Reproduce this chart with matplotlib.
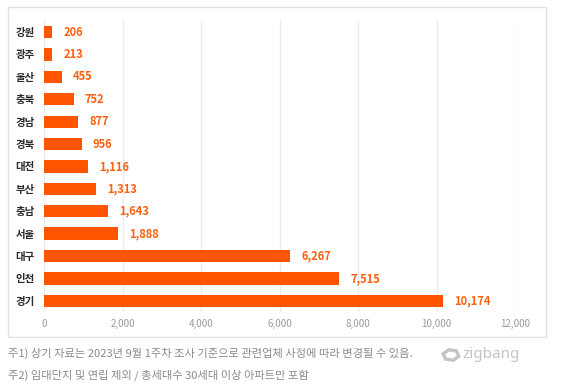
#!/usr/bin/env python3
import matplotlib
matplotlib.use('Agg')
import matplotlib.pyplot as plt
import matplotlib.patches as patches

plt.rcParams['font.family'] = ['Noto Sans CJK KR', 'DejaVu Sans']

# Data (top to bottom)
regions = ['강원', '광주', '울산', '충북', '경남', '경북', '대전', '부산', '충남', '서울', '대구', '인천', '경기']
values = [206, 213, 455, 752, 877, 956, 1116, 1313, 1643, 1888, 6267, 7515, 10174]
x_ticks = [0, 2000, 4000, 6000, 8000, 10000, 12000]

bar_color = '#FF5500'

fig = plt.figure(figsize=(5.68, 3.91), dpi=100)
W, H = 568, 391

# Outer card border
card = patches.Rectangle((8 / W, 1 - 337 / H), (546 - 8) / W, (337 - 7) / H,
                         transform=fig.transFigure, linewidth=1,
                         edgecolor='#e2e2e2', facecolor='none')
fig.patches.append(card)

ax = fig.add_axes([44 / W, 1 - 312 / H, (515 - 44) / W, (312 - 20) / H])
ax.set_facecolor('none')

ypos = list(range(len(regions)))
ax.barh(ypos, values, height=0.55, color=bar_color, zorder=3)

for y, v in zip(ypos, values):
    ax.annotate(f'{v:,}', xy=(v, y), xytext=(8, 0), textcoords='offset points',
                ha='left', va='center', fontsize=8, fontweight='bold',
                color='#FF600F', zorder=4)

ax.set_xlim(0, 12000)
ax.set_ylim(len(regions) - 0.5, -0.54)
ax.set_xticks(x_ticks)
ax.set_xticklabels([f'{t:,}' for t in x_ticks], fontsize=7, color='#9a9a9a')
ax.set_yticks(ypos)
ax.set_yticklabels(regions, fontsize=7.5, fontweight='bold', color='#2a2a2a')
ax.tick_params(axis='both', length=0)
ax.tick_params(axis='y', pad=6.5)
ax.tick_params(axis='x', pad=5)
for s in ax.spines.values():
    s.set_visible(False)
ax.grid(axis='x', color='#ececec', linewidth=1, zorder=0)
ax.set_axisbelow(True)

# Footnotes
fig.text(8 / W, 1 - 353 / H, '주1) 상기 자료는 2023년 9월 1주차 조사 기준으로 관련업체 사정에 따라 변경될 수 있음.',
         fontsize=8.1, color='#8a8a8a', va='center', ha='left')
fig.text(8 / W, 1 - 375 / H, '주2) 임대단지 및 연립 제외 / 총세대수 30세대 이상 아파트만 포함',
         fontsize=8.1, color='#8a8a8a', va='center', ha='left')

# zigbang logo
logo = patches.RegularPolygon((451 / W, 1 - 355 / H), numVertices=6, radius=8 / W,
                              orientation=0.3, transform=fig.transFigure,
                              fill=False, edgecolor='#c4c4c4', linewidth=2.4)
fig.patches.append(logo)
fig.text(462 / W, 1 - 354 / H, 'zigbang', fontsize=11, fontweight='bold',
         color='#c4c4c4', va='center', ha='left', family='Noto Sans')

plt.savefig('out.png', dpi=100)
plt.close()
